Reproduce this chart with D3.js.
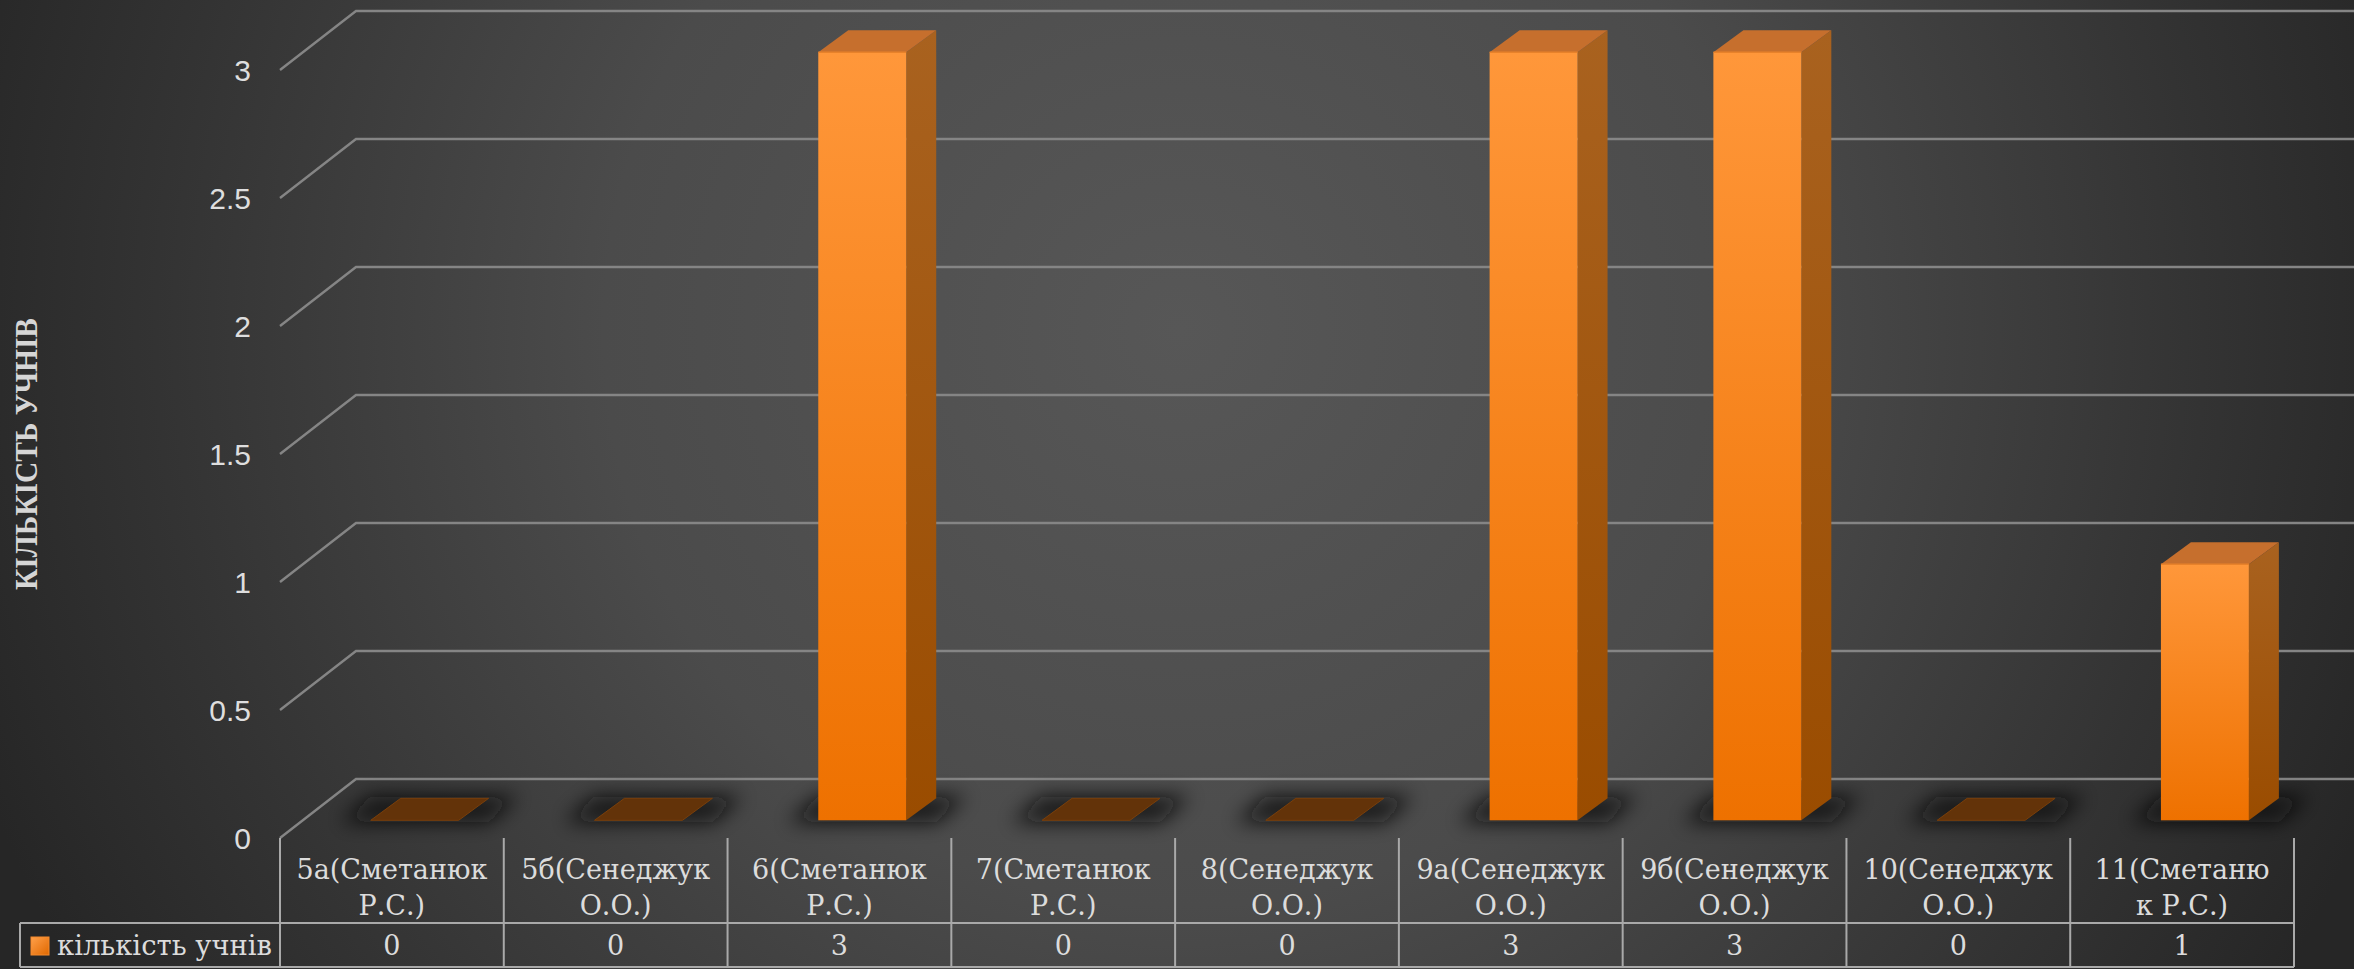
<!DOCTYPE html>
<html>
<head>
<meta charset="utf-8">
<script src="https://cdn.jsdelivr.net/npm/d3@7"></script>
<style>
  html, body { margin: 0; padding: 0; background: #2a2a2a; overflow: hidden; }
  svg { display: block; }
</style>
</head>
<body>
<svg id="chart" width="2354" height="969"></svg>
<script>
// ---- data ----
const categories = [
  "5а(Сметанюк\nР.С.)",
  "5б(Сенеджук\nО.О.)",
  "6(Сметанюк\nР.С.)",
  "7(Сметанюк\nР.С.)",
  "8(Сенеджук\nО.О.)",
  "9а(Сенеджук\nО.О.)",
  "9б(Сенеджук\nО.О.)",
  "10(Сенеджук\nО.О.)",
  "11(Сметаню\nк Р.С.)"
];
const values = [0, 0, 3, 0, 0, 3, 3, 0, 1];
const seriesName = "кількість учнів";
const yTicks = [0, 0.5, 1, 1.5, 2, 2.5, 3];
const yTickLabels = ["0", "0.5", "1", "1.5", "2", "2.5", "3"];
const yTitle = "КІЛЬКІСТЬ УЧНІВ";

// ---- layout ----
const W = 2354, H = 969;
const svg = d3.select("#chart");
const defs = svg.append("defs");

const x = d3.scaleBand().domain(categories).range([280, 2294]).paddingInner(0).paddingOuter(0);
const y = d3.scaleLinear().domain([0, 3]).range([838, 70]);
const depth = { dx: 76, dy: -59 };
const barFront = 0.30;
const barDepth = { dx: 30, dy: -22 };
const barWFrac = 0.393;

// background
const bg = defs.append("radialGradient").attr("id", "bg")
  .attr("gradientUnits", "userSpaceOnUse")
  .attr("cx", 1180).attr("cy", 330).attr("r", 1280);
bg.append("stop").attr("offset", 0).attr("stop-color", "#575757");
bg.append("stop").attr("offset", 0.45).attr("stop-color", "#4b4b4b");
bg.append("stop").attr("offset", 0.8).attr("stop-color", "#333333");
bg.append("stop").attr("offset", 1).attr("stop-color", "#262626");
svg.append("rect").attr("width", W).attr("height", H).attr("fill", "url(#bg)");

// gradients for bars
const gFront = defs.append("linearGradient").attr("id", "gFront").attr("x1", 0).attr("y1", 0).attr("x2", 0).attr("y2", 1);
gFront.append("stop").attr("offset", 0).attr("stop-color", "#ff973a");
gFront.append("stop").attr("offset", 1).attr("stop-color", "#ee7100");
const gSide = defs.append("linearGradient").attr("id", "gSide").attr("x1", 0).attr("y1", 0).attr("x2", 0).attr("y2", 1);
gSide.append("stop").attr("offset", 0).attr("stop-color", "#a9621f");
gSide.append("stop").attr("offset", 1).attr("stop-color", "#9a4c00");
const gIcon = defs.append("linearGradient").attr("id", "gIcon").attr("x1", 0).attr("y1", 0).attr("x2", 1).attr("y2", 1);
gIcon.append("stop").attr("offset", 0).attr("stop-color", "#ffa04a");
gIcon.append("stop").attr("offset", 1).attr("stop-color", "#e06800");

const blur = defs.append("filter").attr("id", "shadow")
  .attr("filterUnits", "userSpaceOnUse").attr("x", 0).attr("y", 700).attr("width", W).attr("height", 200);
blur.append("feGaussianBlur").attr("stdDeviation", 10);

// gridlines
const grid = svg.append("g");
yTicks.forEach(t => {
  const y0 = y(t);
  grid.append("path")
    .attr("d", `M${x.range()[0]},${y0} L${x.range()[0] + depth.dx},${y0 + depth.dy} L${W},${y0 + depth.dy}`)
    .attr("fill", "none").attr("stroke", "#858585").attr("stroke-width", 2.4);
});

// tick labels
svg.append("g").selectAll("text").data(yTicks).join("text")
  .attr("x", 251).attr("y", d => y(d) + 11)
  .attr("text-anchor", "end")
  .attr("font-family", "Liberation Sans, Arial, sans-serif")
  .attr("font-size", 30)
  .attr("fill", "#dedede")
  .text((d, i) => yTickLabels[i]);

// y title
svg.append("text")
  .attr("transform", "translate(37,454) rotate(-90)")
  .attr("text-anchor", "middle")
  .attr("font-family", "Liberation Serif, Times New Roman, serif")
  .attr("font-weight", "bold")
  .attr("font-size", 31)
  .attr("textLength", 272).attr("lengthAdjust", "spacingAndGlyphs")
  .attr("fill", "#d6d6d6")
  .text(yTitle);

// bars
const bw = x.bandwidth() * barWFrac;
const fdx = depth.dx * barFront, fdy = depth.dy * barFront;
const barData = categories.map((c, i) => {
  const cx = x(c) + x.bandwidth() / 2 + fdx;
  return { c, v: values[i], x0: cx - bw / 2, x1: cx + bw / 2, yb: y(0) + fdy, yt: y(values[i]) + fdy };
});

// shadows
svg.append("g").attr("filter", "url(#shadow)").selectAll("path").data(barData).join("path")
  .attr("d", d => {
    const e = 30;
    return `M${d.x0 - e},${d.yb + 2} L${d.x1 + e},${d.yb + 2} L${d.x1 + barDepth.dx + e},${d.yb + barDepth.dy - 2} L${d.x0 + barDepth.dx - e},${d.yb + barDepth.dy - 2} Z`;
  })
  .attr("fill", "#0a0a0a").attr("opacity", 0.85);

const bars = svg.append("g").selectAll("g").data(barData).join("g");
bars.each(function (d) {
  const g = d3.select(this);
  if (d.v === 0) {
    g.append("path")
      .attr("d", `M${d.x0},${d.yb} L${d.x1},${d.yb} L${d.x1 + barDepth.dx},${d.yb + barDepth.dy} L${d.x0 + barDepth.dx},${d.yb + barDepth.dy} Z`)
      .attr("fill", "#633309").attr("stroke", "#7a3f0a").attr("stroke-width", 1);
    return;
  }
  g.append("path")
    .attr("d", `M${d.x1},${d.yt} L${d.x1 + barDepth.dx},${d.yt + barDepth.dy} L${d.x1 + barDepth.dx},${d.yb + barDepth.dy} L${d.x1},${d.yb} Z`)
    .attr("fill", "url(#gSide)");
  g.append("path")
    .attr("d", `M${d.x0},${d.yt} L${d.x0 + barDepth.dx},${d.yt + barDepth.dy} L${d.x1 + barDepth.dx},${d.yt + barDepth.dy} L${d.x1},${d.yt} Z`)
    .attr("fill", "#c66f2d");
  g.append("rect")
    .attr("x", d.x0).attr("y", d.yt).attr("width", bw).attr("height", d.yb - d.yt)
    .attr("fill", "url(#gFront)");
  g.append("path")
    .attr("d", `M${d.x0},${d.yt} L${d.x1},${d.yt}`)
    .attr("stroke", "#e8822a").attr("stroke-width", 1.5);
});

// data table
const table = svg.append("g");
const tTop = 838, tMid = 923, tBot = 967, tLeft = 20;
const lineColor = "#a9a9a9";
const colEdges = categories.map(c => x(c)).concat([x.range()[1]]);
table.selectAll("line.v").data(colEdges).join("line")
  .attr("x1", d => d).attr("x2", d => d).attr("y1", tTop).attr("y2", tBot)
  .attr("stroke", lineColor).attr("stroke-width", 2);
table.append("line").attr("x1", tLeft).attr("x2", x.range()[1]).attr("y1", tMid).attr("y2", tMid)
  .attr("stroke", lineColor).attr("stroke-width", 2);
table.append("line").attr("x1", tLeft).attr("x2", x.range()[1]).attr("y1", tBot).attr("y2", tBot)
  .attr("stroke", lineColor).attr("stroke-width", 2);
table.append("line").attr("x1", tLeft).attr("x2", tLeft).attr("y1", tMid).attr("y2", tBot)
  .attr("stroke", lineColor).attr("stroke-width", 2);

const serif = "DejaVu Serif, serif";
table.selectAll("text.cat").data(categories).join("text")
  .attr("class", "cat")
  .attr("text-anchor", "middle")
  .attr("font-family", serif).attr("font-size", 27).attr("fill", "#dcdcdc")
  .each(function (d) {
    const t = d3.select(this);
    const cx = x(d) + x.bandwidth() / 2;
    d.split("\n").forEach((ln, k) => {
      t.append("tspan").attr("x", cx).attr("y", 879 + k * 36).text(ln);
    });
  });

table.selectAll("text.val").data(values).join("text")
  .attr("class", "val")
  .attr("x", (d, i) => x(categories[i]) + x.bandwidth() / 2)
  .attr("y", 955)
  .attr("text-anchor", "middle")
  .attr("font-family", serif).attr("font-size", 27).attr("fill", "#dcdcdc")
  .text(d => d);

table.append("rect").attr("x", 31).attr("y", 937).attr("width", 18).attr("height", 18)
  .attr("fill", "url(#gIcon)").attr("stroke", "#f58a2c").attr("stroke-width", 1);
table.append("text").attr("x", 57).attr("y", 955)
  .attr("font-family", serif).attr("font-size", 27).attr("fill", "#dcdcdc")
  .attr("textLength", 215).attr("lengthAdjust", "spacingAndGlyphs")
  .text(seriesName);
</script>
</body>
</html>
